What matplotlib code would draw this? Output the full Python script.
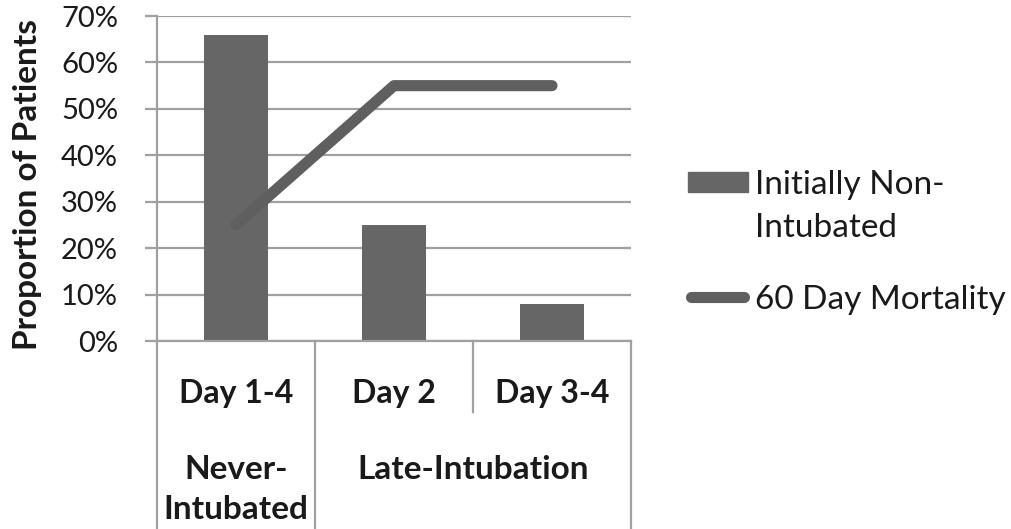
import matplotlib
matplotlib.use("Agg")
import matplotlib.pyplot as plt
from matplotlib.ticker import PercentFormatter
from matplotlib.patches import Rectangle
from matplotlib.lines import Line2D

plt.rcParams["font.family"] = ["Lato", "DejaVu Sans"]

days = ["Day 1-4", "Day 2", "Day 3-4"]
groups = ["Never-\nIntubated", "Late-Intubation"]
group_span = [(0, 0), (1, 2)]
non_intubated = [66, 25, 8]
mortality = [25, 55, 55]
yticks = [0, 10, 20, 30, 40, 50, 60, 70]

grid_c = "#a0a0a0"
bar_c = "#666666"
line_c = "#5f5f5f"
txt_c = "#1a1a1a"

W, H = 1012, 529
fig = plt.figure(figsize=(W / 100, H / 100), dpi=100)
ax = fig.add_axes([157 / W, 1 - 341 / H, 474 / W, 325 / H])

x = list(range(len(days)))
ax.bar(x, non_intubated, width=0.4, color=bar_c, zorder=2)
ax.plot(x, mortality, color=line_c, lw=8, solid_capstyle="round", solid_joinstyle="round", zorder=3)

ax.set_xlim(-0.5, 2.5)
ax.set_ylim(0, 70)
ax.set_yticks(yticks)
ax.yaxis.set_major_formatter(PercentFormatter(decimals=0))
ax.yaxis.grid(True, color=grid_c, lw=1.6, zorder=0)
ax.set_axisbelow(True)
ax.tick_params(axis="y", length=9, width=1.6, color=grid_c, pad=19, labelsize=21, labelcolor=txt_c)
ax.set_xticks([])
for s in ["top", "right"]:
    ax.spines[s].set_visible(False)
for s in ["left", "bottom"]:
    ax.spines[s].set_color(grid_c)
    ax.spines[s].set_linewidth(1.6)

# multi-level category axis (pixel offsets below the plot area)
def ay(py):
    return -(py - 341) / 325

tr = ax.get_xaxis_transform()
for xv in [-0.5, 0.5, 2.5]:
    ax.plot([xv, xv], [0, ay(H)], transform=tr, color=grid_c, lw=1.6, clip_on=False)
ax.plot([1.5, 1.5], [0, ay(412)], transform=tr, color=grid_c, lw=1.6, clip_on=False)
for xi, d in zip(x, days):
    ax.text(xi, ay(403), d, transform=tr, ha="center", va="baseline", fontsize=23,
            fontweight="bold", color=txt_c)
for (a, b), g in zip(group_span, groups):
    ax.text((a + b) / 2, ay(455), g, transform=tr, ha="center", va="top", fontsize=24,
            fontweight="bold", color=txt_c, linespacing=1.45)

fig.text(37 / W, 1 - 185 / H, "Proportion of Patients", rotation=90, rotation_mode="anchor",
         ha="center", va="baseline", fontsize=24, fontweight="bold", color=txt_c)

# legend
fig.add_artist(Rectangle((688 / W, 1 - 192 / H), 60 / W, 20 / H, transform=fig.transFigure,
                         color=bar_c))
fig.text(755 / W, 1 - 170 / H, "Initially Non-\nIntubated", ha="left", va="top", fontsize=24,
         color=txt_c, linespacing=1.55)
fig.add_artist(Line2D([691 / W, 744 / W], [1 - 297 / H, 1 - 297 / H], transform=fig.transFigure,
                      color=line_c, lw=8, solid_capstyle="round"))
fig.text(755 / W, 1 - 309 / H, "60 Day Mortality", ha="left", va="baseline", fontsize=24,
         color=txt_c)

fig.savefig("out.png", dpi=100)
